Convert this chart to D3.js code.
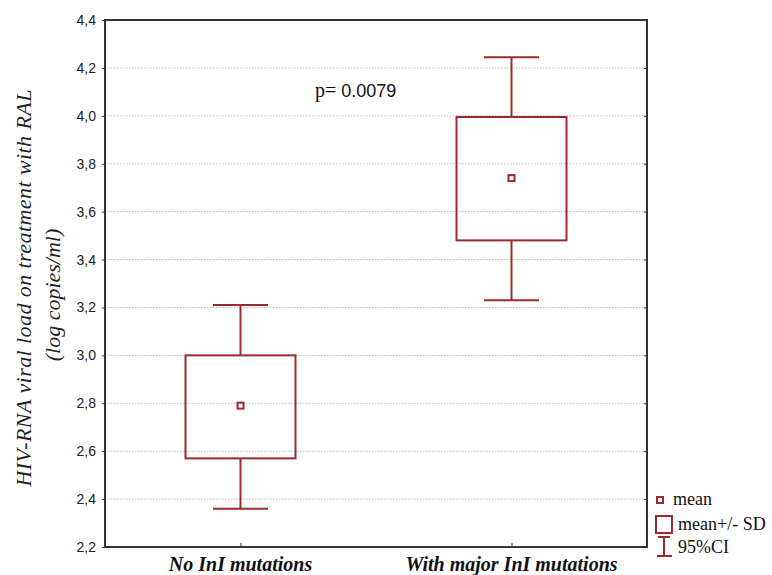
<!DOCTYPE html>
<html><head><meta charset="utf-8">
<script src="https://cdn.jsdelivr.net/npm/d3@7"></script>
<style>body{margin:0;background:#fff}svg{display:block}</style>
</head><body><svg id="c" width="772" height="575"></svg>
<script>
const categories = ["No InI mutations", "With major InI mutations"];
const means  = [2.79, 3.74];
const sdLow  = [2.57, 3.48];
const sdHigh = [3.00, 3.995];
const ciLow  = [2.36, 3.23];
const ciHigh = [3.21, 4.245];
const yTicks = [2.2, 2.4, 2.6, 2.8, 3.0, 3.2, 3.4, 3.6, 3.8, 4.0, 4.2, 4.4];
const pText = ["p=", " 0.0079"];
const legendLabels = ["mean", "mean+/- SD", "95%CI"];

const red = "#9c2a2a";
const svg = d3.select("#c");
const L = 105, R = 647, T = 20, B = 547;
const y = d3.scaleLinear().domain([2.2, 4.4]).range([B, T]);
const x = d3.scalePoint().domain(categories).range([L, R]).padding(0.5);
const fmt = d => d3.format(".1f")(d).replace(".", ",");

// gridlines
svg.append("g").selectAll("line").data(yTicks.slice(1, -1)).join("line")
  .attr("x1", L).attr("x2", R).attr("y1", d => y(d)).attr("y2", d => y(d))
  .attr("stroke", "#b8b8b8").attr("stroke-width", 1).attr("stroke-dasharray", "1.5,1.5");

// left axis
const ya = svg.append("g").attr("transform", `translate(${L},0)`)
  .call(d3.axisLeft(y).tickValues(yTicks).tickFormat(fmt).tickSize(3).tickPadding(6));
ya.select(".domain").remove();
ya.selectAll("line").attr("stroke", "#333");
ya.selectAll("text").attr("font-family", "Liberation Sans, Arial, sans-serif").attr("font-size", 14).attr("fill", "#222");
// right inner ticks
svg.append("g").attr("transform", `translate(${R},0)`)
  .call(d3.axisLeft(y).tickValues(yTicks).tickFormat("").tickSize(3))
  .call(g => g.select(".domain").remove())
  .selectAll("line").attr("stroke", "#333");
// bottom axis ticks (inner)
const xa = svg.append("g").attr("transform", `translate(0,${B})`)
  .call(d3.axisTop(x).tickSize(4).tickFormat(""));
xa.select(".domain").remove();
xa.selectAll("line").attr("stroke", "#333");

// frame
svg.append("rect").attr("x", L).attr("y", T).attr("width", R - L).attr("height", B - T)
  .attr("fill", "none").attr("stroke", "#333").attr("stroke-width", 2);

// x labels
svg.append("g").selectAll("text").data(categories).join("text")
  .attr("x", d => x(d)).attr("y", 571).attr("text-anchor", "middle")
  .attr("font-family", "Liberation Serif, Times New Roman, serif")
  .attr("font-style", "italic").attr("font-weight", "bold").attr("font-size", 20).attr("fill", "#111")
  .text(d => d);

// y title
const yt = svg.append("text").attr("transform", "translate(31,288) rotate(-90)")
  .attr("text-anchor", "middle").attr("font-family", "Liberation Serif, Times New Roman, serif")
  .attr("font-style", "italic").attr("font-size", 22).attr("fill", "#222");
yt.append("tspan").attr("x", 0).attr("y", 0).attr("textLength", 397).attr("lengthAdjust", "spacing")
  .text("HIV-RNA viral load on treatment with RAL");
yt.append("tspan").attr("x", -7).attr("y", 29).text("(log copies/ml)");

// boxes
const bw = 110, cw = 55;
const g = svg.append("g").attr("stroke", red).attr("stroke-width", 2).attr("fill", "none");
categories.forEach((c, i) => {
  const cx = x(c);
  g.append("line").attr("x1", cx).attr("x2", cx).attr("y1", y(ciHigh[i])).attr("y2", y(sdHigh[i]));
  g.append("line").attr("x1", cx).attr("x2", cx).attr("y1", y(sdLow[i])).attr("y2", y(ciLow[i]));
  g.append("line").attr("x1", cx - cw / 2).attr("x2", cx + cw / 2).attr("y1", y(ciHigh[i])).attr("y2", y(ciHigh[i]));
  g.append("line").attr("x1", cx - cw / 2).attr("x2", cx + cw / 2).attr("y1", y(ciLow[i])).attr("y2", y(ciLow[i]));
  g.append("rect").attr("x", cx - bw / 2).attr("width", bw)
    .attr("y", y(sdHigh[i])).attr("height", y(sdLow[i]) - y(sdHigh[i]));
  g.append("rect").attr("x", cx - 3).attr("y", y(means[i]) - 3).attr("width", 6).attr("height", 6);
});

// p value
const pt = svg.append("text").attr("x", 315).attr("y", 97).attr("font-size", 18).attr("fill", "#111");
pt.append("tspan").attr("font-family", "Liberation Serif, Times New Roman, serif").attr("font-size", 20).text(pText[0]);
pt.append("tspan").attr("font-family", "Liberation Sans, Arial, sans-serif").text(pText[1]);

// legend
const lg = svg.append("g");
lg.append("rect").attr("x", 657).attr("y", 497).attr("width", 6).attr("height", 6)
  .attr("fill", "none").attr("stroke", red).attr("stroke-width", 2);
lg.append("rect").attr("x", 656).attr("y", 516).attr("width", 16).attr("height", 17)
  .attr("fill", "none").attr("stroke", red).attr("stroke-width", 2);
lg.append("line").attr("x1", 664).attr("x2", 664).attr("y1", 537).attr("y2", 556).attr("stroke", red).attr("stroke-width", 2);
lg.append("line").attr("x1", 658).attr("x2", 670).attr("y1", 537).attr("y2", 537).attr("stroke", red).attr("stroke-width", 2);
lg.append("line").attr("x1", 657).attr("x2", 672).attr("y1", 556).attr("y2", 556).attr("stroke", red).attr("stroke-width", 2);
const lx = [673, 678, 678], ly = [505, 530, 553];
lg.selectAll("text").data(legendLabels).join("text")
  .attr("x", (d, i) => lx[i]).attr("y", (d, i) => ly[i])
  .attr("font-family", "Liberation Serif, Times New Roman, serif").attr("font-size", 18).attr("fill", "#111")
  .text(d => d);
</script></body></html>
